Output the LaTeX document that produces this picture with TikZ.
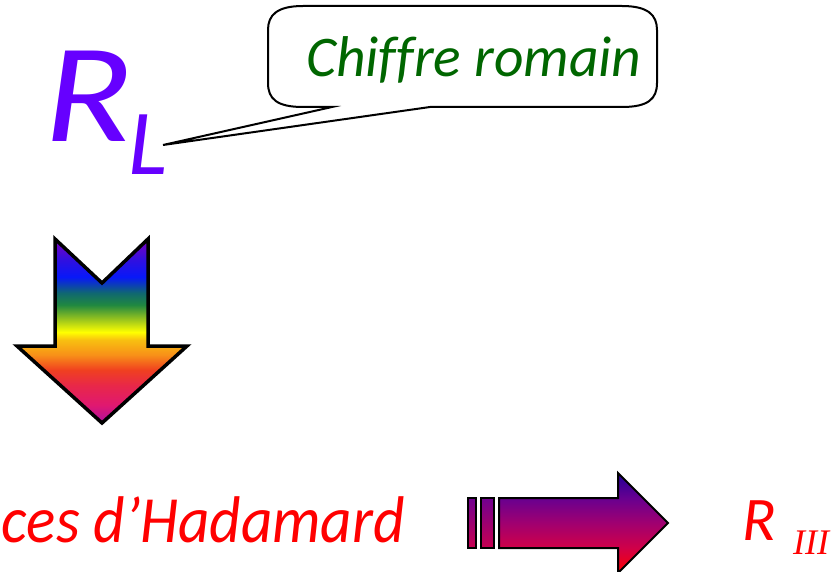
\documentclass[tikz,border=0pt]{standalone}
\usepackage{fontspec}
\usepackage{graphicx}
\setmainfont{Carlito}[Ligatures=NoCommon]
\newfontfamily\serifit{Liberation Serif}
\usetikzlibrary{calc}

\definecolor{rlpurple}{HTML}{6600FF}
\definecolor{notegreen}{HTML}{006600}
\definecolor{hadred}{HTML}{FF0000}

% rainbow for the downward arrow (bottom to top)
\definecolor{rbA}{HTML}{B0109F}
\definecolor{rbB}{HTML}{E01870}
\definecolor{rbC}{HTML}{E82848}
\definecolor{rbD}{HTML}{F04020}
\definecolor{rbE}{HTML}{F89018}
\definecolor{rbF}{HTML}{F8C010}
\definecolor{rbG}{HTML}{FFFF00}
\definecolor{rbH}{HTML}{90C020}
\definecolor{rbI}{HTML}{208840}
\definecolor{rbJ}{HTML}{106870}
\definecolor{rbK}{HTML}{0818F8}
\definecolor{rbL}{HTML}{3010E0}
\definecolor{rbM}{HTML}{8000C0}
\pgfdeclareverticalshading{rainbowdown}{100bp}{%
  color(0bp)=(rbA); color(25bp)=(rbA); color(29.9bp)=(rbB);
  color(35.3bp)=(rbC); color(39.4bp)=(rbD); color(43.5bp)=(rbE);
  color(47.6bp)=(rbF); color(49.7bp)=(rbG); color(53.5bp)=(rbH);
  color(57.1bp)=(rbI); color(60.3bp)=(rbJ); color(64.7bp)=(rbK);
  color(69.3bp)=(rbL); color(75bp)=(rbM); color(100bp)=(rbM)}

% purple-to-red fade for the right arrow and its bars
\definecolor{prA}{HTML}{FF0000}
\definecolor{prB}{HTML}{D00048}
\definecolor{prC}{HTML}{A00070}
\definecolor{prD}{HTML}{680090}
\definecolor{prE}{HTML}{200098}
\pgfdeclareverticalshading{purplered}{100bp}{%
  color(0bp)=(prA); color(25bp)=(prA); color(37.5bp)=(prB);
  color(50bp)=(prC); color(62.5bp)=(prD); color(75bp)=(prE);
  color(100bp)=(prE)}
\definecolor{barTop}{HTML}{700090}
\definecolor{barBot}{HTML}{C80050}

\tikzset{
  label text/.style={inner sep=0pt, font=\itshape},
  rainbow arrow/.style={shading=rainbowdown, draw=black, line width=3.5pt, line join=miter},
  fade arrow/.style={shading=purplered, draw=black, line width=2pt, line join=miter},
  fade bar/.style={top color=barTop, bottom color=barBot, draw=black, line width=2pt},
  note outline/.style={draw=black, line width=2pt, fill=white, line join=miter}
}

\begin{document}
\begin{tikzpicture}[x=1pt, y=-1pt]
  \useasboundingbox (0,0) rectangle (832,572);
  \clip (0,0) rectangle (832,572);

  % R_L
  \node[label text, anchor=base west, text=rlpurple,
        font=\itshape\fontsize{141}{141}\selectfont] (RL) at (44,142) {\scalebox{1.15}[1]{R}};
  \node[label text, anchor=base west, text=rlpurple,
        font=\itshape\fontsize{93}{93}\selectfont] (RLsub) at (128,175) {L};
  \coordinate (tip) at (163,145);

  % speech bubble with its tail pointing at the subscript
  \coordinate (tailA) at (332,107);
  \coordinate (tailB) at (430,107);
  \draw[note outline]
    (303,6) -- (622,6) .. controls (648,6) and (657,15) .. (657,30)
    -- (657,83) .. controls (657,99) and (648,107) .. (622,107)
    -- (tailB) -- (tip) -- (tailA)
    -- (303,107) .. controls (277,107) and (268,99) .. (268,83)
    -- (268,30) .. controls (268,15) and (277,6) .. (303,6) -- cycle;
  \node[label text, anchor=base west, text=notegreen,
        font=\itshape\fontsize{57.5}{60}\selectfont] (note) at (306,77) {Chiffre romain};

  % rainbow arrow pointing down
  \draw[rainbow arrow]
    (55,239) -- (102,283) -- (148,239) -- (148,346) -- (187,346)
    -- (102,423) -- (17,346) -- (55,346) -- cycle;

  % bottom line
  \node[label text, anchor=base east, text=hadred,
        font=\itshape\fontsize{66}{66}\selectfont] (had) at (405,542) {\resizebox{403pt}{\height}{ces d’Hadamard}};

  \draw[fade bar] (468,498) rectangle (476,548);
  \draw[fade bar] (481,498) rectangle (494,548);
  \draw[fade arrow]
    (499,498) -- (618,498) -- (618,473) -- (668,523) -- (618,573)
    -- (618,548) -- (499,548) -- cycle;

  \node[label text, anchor=base west, text=hadred,
        font=\itshape\fontsize{62}{62}\selectfont] (R3) at (742,540) {R};
  \node[label text, anchor=base west, text=hadred,
        font=\serifit\itshape\fontsize{36}{36}\selectfont] (R3sub) at (793,554) {III};
\end{tikzpicture}
\end{document}
